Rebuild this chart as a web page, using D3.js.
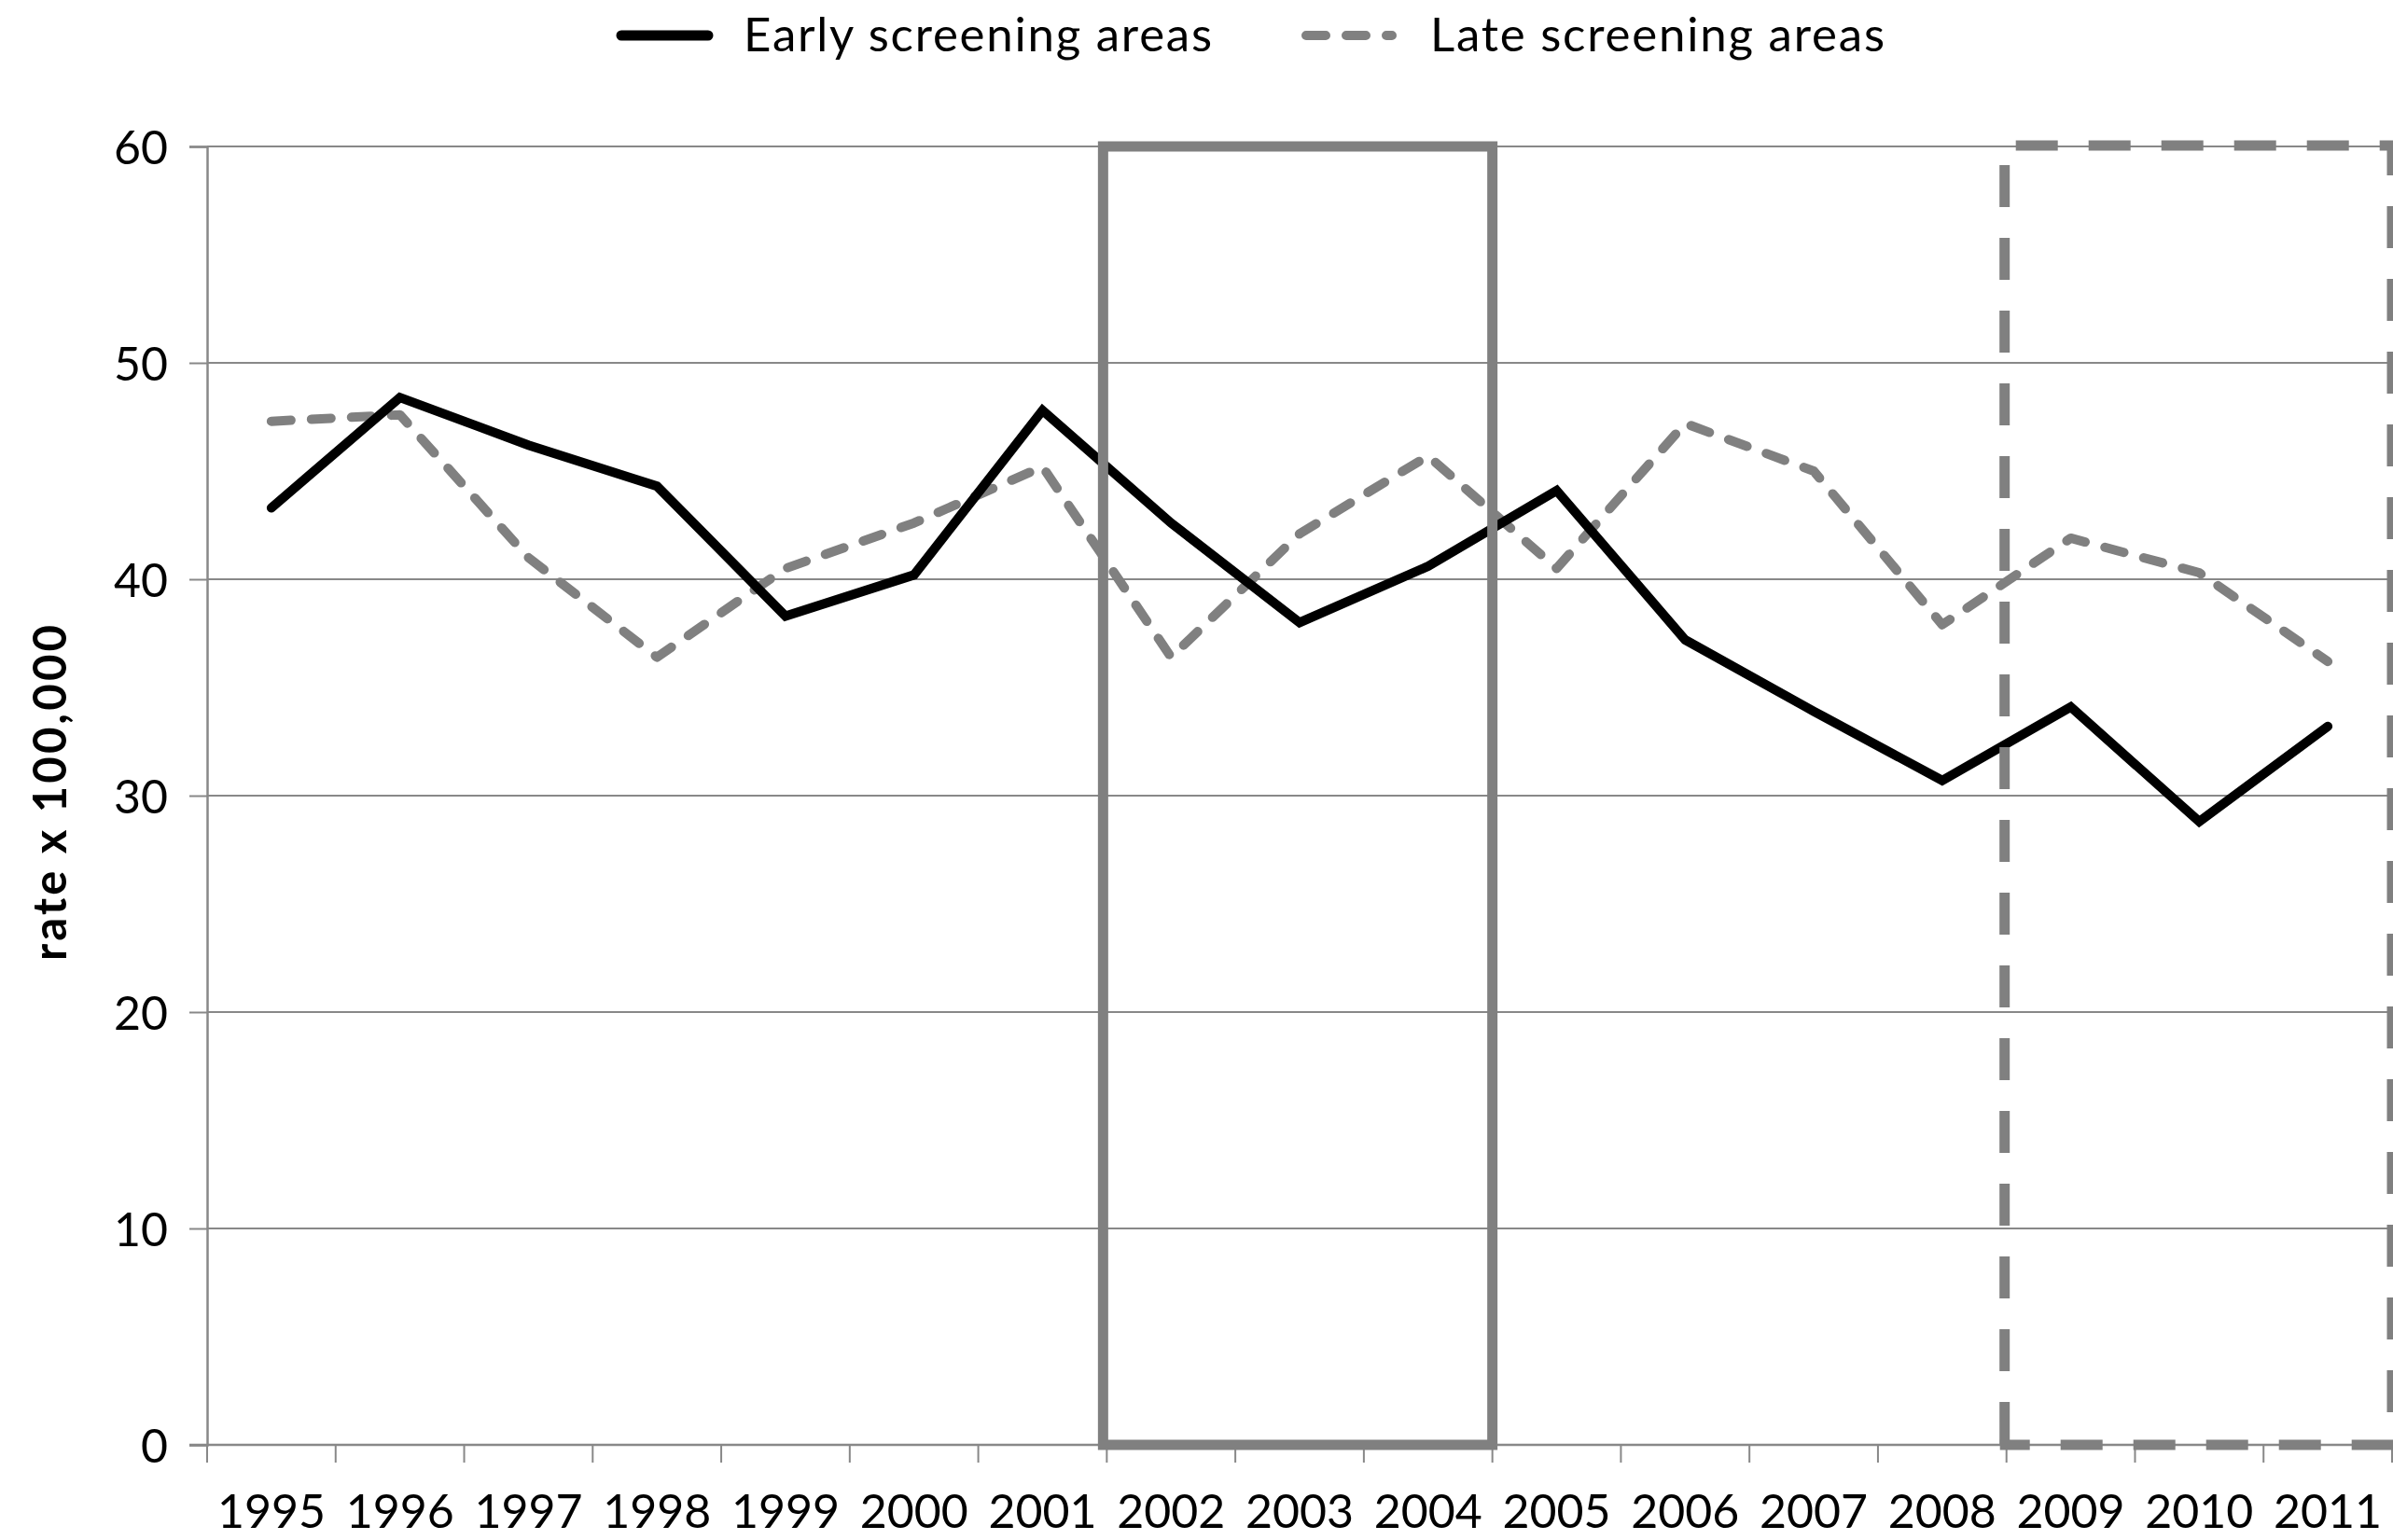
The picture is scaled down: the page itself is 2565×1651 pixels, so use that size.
<!DOCTYPE html>
<html>
<head>
<meta charset="utf-8">
<script src="https://cdn.jsdelivr.net/npm/d3@7"></script>
<style>
  html, body { margin: 0; padding: 0; background: #fff; }
  svg { display: block; }
  text { font-family: Lato, "Open Sans", sans-serif; fill: #000; }
</style>
</head>
<body>
<svg id="chart" width="2565" height="1651"></svg>
<script>
// ---- data ----
const years = ["1995","1996","1997","1998","1999","2000","2001","2002","2003","2004","2005","2006","2007","2008","2009","2010","2011"];
const earlyValues = [43.3, 48.4, 46.2, 44.3, 38.3, 40.2, 47.8, 42.6, 38.0, 40.6, 44.1, 37.2, 33.9, 30.7, 34.1, 28.8, 33.2];
const lateValues  = [47.3, 47.6, 41.0, 36.4, 40.5, 42.6, 45.2, 36.4, 42.1, 45.7, 40.5, 47.2, 45.0, 37.9, 41.9, 40.3, 36.2];
const yTicks = [0, 10, 20, 30, 40, 50, 60];
const seriesNames = ["Early screening areas", "Late screening areas"];
const yTitle = "rate x 100,000";
const solidBoxYears = ["2002", "2004"];
const dashedBoxYears = ["2009", "2011"];
const boxRange = [0, 60];

// ---- layout ----
const svg = d3.select("#chart");
const L = 222, R = 2564, T = 157, B = 1549;
const x = d3.scaleBand().domain(years).range([L, R]).paddingInner(0).paddingOuter(0);
const y = d3.scaleLinear().domain([0, 60]).range([B, T]);
const gridColor = "#888888";
const boxColor = "#808080";

// gridlines
svg.append("g").selectAll("line").data(yTicks).join("line")
  .attr("x1", L).attr("x2", R)
  .attr("y1", d => y(d)).attr("y2", d => y(d))
  .attr("stroke", gridColor).attr("stroke-width", 2);

// y axis
const yAxis = svg.append("g").attr("transform", `translate(${L},0)`)
  .call(d3.axisLeft(y).tickValues(yTicks).tickSize(19).tickPadding(23).tickFormat(d3.format("d")));
yAxis.select(".domain").attr("stroke", gridColor).attr("stroke-width", 2.5);
yAxis.selectAll(".tick line").attr("stroke", gridColor).attr("stroke-width", 2);
yAxis.selectAll(".tick text").attr("font-family", "Lato").attr("font-size", 50).attr("dy", "0.36em").attr("fill", "#000");

// x axis (labels at band centres, ticks at band boundaries)
const xAxis = svg.append("g").attr("transform", `translate(0,${B})`)
  .call(d3.axisBottom(x).tickSize(0));
xAxis.select(".domain").remove();
xAxis.selectAll(".tick text").attr("font-family", "Lato").attr("font-size", 50)
  .attr("y", 89).attr("dy", 0).attr("fill", "#000");
svg.append("line").attr("x1", L - 19).attr("x2", R).attr("y1", y(0)).attr("y2", y(0))
  .attr("stroke", gridColor).attr("stroke-width", 2.5);
const boundaries = years.map(d => x(d)).concat([x(years[years.length - 1]) + x.bandwidth()]);
svg.append("g").selectAll("line").data(boundaries).join("line")
  .attr("x1", d => d).attr("x2", d => d)
  .attr("y1", y(0)).attr("y2", y(0) + 19)
  .attr("stroke", gridColor).attr("stroke-width", 2);

// y title
svg.append("text")
  .attr("transform", `translate(71,${(T + B) / 2 - 3}) rotate(-90)`)
  .attr("text-anchor", "middle")
  .attr("font-family", "Lato").attr("font-weight", "bold").attr("font-size", 49)
  .attr("textLength", 360).attr("lengthAdjust", "spacing")
  .text(yTitle);

// series
const line = d3.line().x((d, i) => x(years[i]) + x.bandwidth() / 2).y(d => y(d));
svg.append("path").datum(lateValues).attr("d", line)
  .attr("fill", "none").attr("stroke", "#808080").attr("stroke-width", 10)
  .attr("stroke-dasharray", "21,22").attr("stroke-linecap", "round").attr("stroke-linejoin", "round");
svg.append("path").datum(earlyValues).attr("d", line)
  .attr("fill", "none").attr("stroke", "#000").attr("stroke-width", 10)
  .attr("stroke-linecap", "round").attr("stroke-linejoin", "miter");

// solid highlight box
const sx0 = x(solidBoxYears[0]) - 4, sx1 = x(solidBoxYears[1]) + x.bandwidth();
svg.append("rect")
  .attr("x", sx0).attr("y", y(boxRange[1]))
  .attr("width", sx1 - sx0).attr("height", y(boxRange[0]) - y(boxRange[1]))
  .attr("fill", "none").attr("stroke", boxColor).attr("stroke-width", 11);

// dashed highlight box (four sides with their own dash phase)
const dx0 = x(dashedBoxYears[0]) - 2, dx1 = x(dashedBoxYears[1]) + x.bandwidth();
const dy0 = y(boxRange[1]) - 1, dy1 = y(boxRange[0]);
const sides = [
  {x1: dx0, y1: dy0, x2: dx1 + 5, y2: dy0, off: 66},
  {x1: dx1, y1: dy0 - 5, x2: dx1, y2: dy1 + 5, off: 8},
  {x1: dx0 - 5, y1: dy1, x2: dx1 + 5, y2: dy1, off: 13},
  {x1: dx0, y1: dy0, x2: dx0, y2: dy1 + 5, off: 57}
];
svg.append("g").selectAll("line").data(sides).join("line")
  .attr("x1", d => d.x1).attr("y1", d => d.y1).attr("x2", d => d.x2).attr("y2", d => d.y2)
  .attr("stroke", boxColor).attr("stroke-width", 11)
  .attr("stroke-dasharray", "45,33").attr("stroke-dashoffset", d => d.off);

// legend
const leg = svg.append("g");
leg.append("line").attr("x1", 666).attr("x2", 759).attr("y1", 38).attr("y2", 38)
  .attr("stroke", "#000").attr("stroke-width", 11).attr("stroke-linecap", "round");
leg.append("text").attr("x", 797).attr("y", 55).attr("font-size", 51)
  .attr("textLength", 502).attr("lengthAdjust", "spacing").text(seriesNames[0]);
leg.append("line").attr("x1", 1400).attr("x2", 1492).attr("y1", 38).attr("y2", 38)
  .attr("stroke", "#808080").attr("stroke-width", 10).attr("stroke-linecap", "round")
  .attr("stroke-dasharray", "21,22");
leg.append("text").attr("x", 1533).attr("y", 55).attr("font-size", 51)
  .attr("textLength", 487).attr("lengthAdjust", "spacing").text(seriesNames[1]);
</script>
</body>
</html>
